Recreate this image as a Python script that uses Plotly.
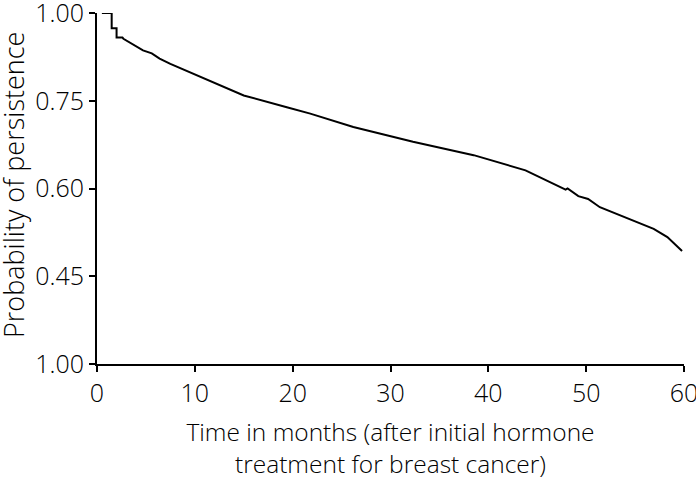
import plotly.graph_objects as go

# Kaplan-Meier style persistence curve
months = [0.5, 1.5, 1.5, 2.0, 2.0, 2.6, 2.7, 3.5, 4.2, 4.7, 5.6, 6.4, 7.5, 10.9,
          15.0, 19.4, 21.8, 26.2, 28.9, 32.3, 38.5, 43.8, 47.9, 48.1, 49.2, 50.2,
          51.4, 56.9, 58.3, 59.8]
persistence = [0.900, 0.900, 0.874, 0.874, 0.858, 0.858, 0.856, 0.848, 0.842, 0.836,
               0.831, 0.822, 0.813, 0.788, 0.759, 0.739, 0.728, 0.705, 0.694, 0.680,
               0.657, 0.631, 0.598, 0.600, 0.587, 0.582, 0.568, 0.531, 0.517, 0.493]

y_tick_vals = [0.30, 0.45, 0.60, 0.75, 0.90]
y_tick_text = ["1.00", "0.45", "0.60", "0.75", "1.00"]
x_tick_vals = [0, 10, 20, 30, 40, 50, 60]

y_title = "Probability of persistence"
x_title = "Time in months (after initial hormone<br>treatment for breast cancer)"

FONT = "Open Sans"
TXT = "#000000"

fig = go.Figure()
fig.add_trace(go.Scatter(x=months, y=persistence, mode="lines", cliponaxis=False,
                         line=dict(color="black", width=2), showlegend=False))

fig.update_layout(
    width=696, height=480,
    margin=dict(l=97, r=12, t=13, b=116, autoexpand=False),
    paper_bgcolor="white", plot_bgcolor="white",
    font=dict(family=FONT, size=24, color=TXT, weight=300),
)
fig.update_xaxes(
    range=[0, 60], tickvals=x_tick_vals, showgrid=False, zeroline=False,
    showline=True, linecolor="black", linewidth=2, automargin=False,
    ticks="outside", ticklen=6, tickwidth=1.5, tickcolor="black",
    tickfont=dict(size=25, weight=300, color=TXT), ticklabeloverflow="allow",
    title=dict(text=x_title, font=dict(size=24.5, weight=300, color=TXT), standoff=19),
)
fig.update_yaxes(
    range=[0.30, 0.90], tickvals=y_tick_vals, ticktext=y_tick_text,
    showgrid=False, zeroline=False, automargin=False,
    showline=True, linecolor="black", linewidth=2,
    ticks="outside", ticklen=6, tickwidth=1.5, tickcolor="black",
    tickfont=dict(size=25, weight=300, color=TXT), ticklabeloverflow="allow",
)
fig.add_annotation(
    text=y_title, textangle=-90, showarrow=False,
    xref="paper", yref="paper", x=0, y=0.51, xanchor="center", yanchor="middle",
    xshift=-83, font=dict(size=27, weight=300, color=TXT),
)

fig.write_html("out.html", config={"displayModeBar": False},
               post_script="document.body.style.margin='0';")
